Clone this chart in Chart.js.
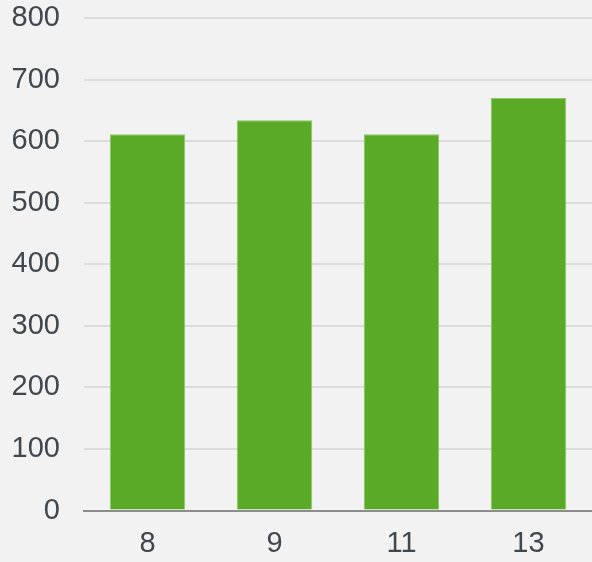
<!DOCTYPE html>
<html>
<head>
<meta charset="utf-8">
<style>
  html, body { margin: 0; padding: 0; background: #f2f2f2; }
  #wrap { width: 592px; height: 562px; }
</style>
<script src="https://cdn.jsdelivr.net/npm/chart.js@4/dist/chart.umd.min.js"></script>
</head>
<body>
<div id="wrap"><canvas id="chart"></canvas></div>
<script>
const categories = ["8", "9", "11", "13"];
const values = [611, 634, 611, 670];
const yTicks = [0, 100, 200, 300, 400, 500, 600, 700, 800];

Chart.defaults.font.family = "Arial, 'Liberation Sans', sans-serif";
Chart.defaults.font.size = 29;
Chart.defaults.color = "#40474d";

new Chart(document.getElementById("chart"), {
  type: "bar",
  data: {
    labels: categories,
    datasets: [{
      data: values,
      backgroundColor: "#5aaa28",
      borderColor: "#8cc866",
      borderWidth: 1
    }]
  },
  options: {
    responsive: true,
    maintainAspectRatio: false,
    animation: false,
    layout: { padding: 0 },
    plugins: { legend: { display: false }, tooltip: { enabled: false } },
    datasets: { bar: { categoryPercentage: 1, barPercentage: 0.595 } },
    scales: {
      x: {
        grid: { display: false, drawTicks: false },
        border: { color: "#8c8c8c", width: 2 },
        ticks: { padding: 16 },
        afterFit: axis => { axis.height = 51.5; }
      },
      y: {
        min: 0,
        max: 800,
        afterBuildTicks: axis => { axis.ticks = yTicks.map(v => ({ value: v })); },
        afterFit: axis => {
          axis.width = 84;
          axis.paddingTop = 18;
          axis.paddingBottom = 0;
        },
        grid: { color: "#dcdcdc", lineWidth: 2, drawTicks: false },
        border: { display: false },
        ticks: { padding: 24 }
      }
    }
  }
});
</script>
</body>
</html>
